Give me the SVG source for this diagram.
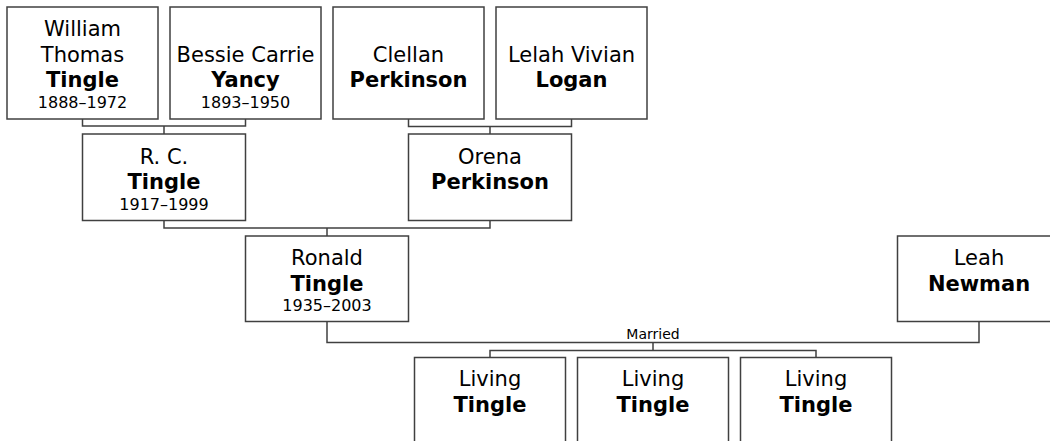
<svg xmlns="http://www.w3.org/2000/svg" width="1050" height="441" viewBox="0 0 1050 441">
<style>
.box{fill:#fff;stroke:#404040;stroke-width:1.5}
.con{fill:none;stroke:#404040;stroke-width:1.5}
text{font-family:"DejaVu Sans",Verdana,sans-serif;fill:#000;text-anchor:middle}
.n{font-size:21px}
.s{font-size:21px;font-weight:bold}
.d{font-size:16px}
.m{font-size:14px}
</style>
<rect width="1050" height="441" fill="#fff"/>
<g id="connectors">
<path class="con" d="M82.5 119V126H245.5V119M164 126V134"/>
<path class="con" d="M408.5 119V126.5H571.5V119M490 126.5V134"/>
<path class="con" d="M164 220.5V228H490V220.5M327 228V236"/>
<path class="con" d="M327 321.5V342.5H979V321.5"/>
<path class="con" d="M653 342.5V350.5M490 357.5V350.5H816V357.5"/>
<text class="m" x="653" y="339">Married</text>
</g>
<g id="william">
<rect class="box" x="7" y="7" width="151" height="112"/>
<text class="n" x="82.5" y="36">William</text>
<text class="n" x="82.5" y="61.5">Thomas</text>
<text class="s" x="82.5" y="87">Tingle</text>
<text class="d" x="82.5" y="108">1888–1972</text>
</g>
<g id="bessie">
<rect class="box" x="170" y="7" width="151" height="112"/>
<text class="n" x="245.5" y="61.5">Bessie Carrie</text>
<text class="s" x="245.5" y="87">Yancy</text>
<text class="d" x="245.5" y="108">1893–1950</text>
</g>
<g id="clellan">
<rect class="box" x="333" y="7" width="151" height="112"/>
<text class="n" x="408.5" y="61.5">Clellan</text>
<text class="s" x="408.5" y="87">Perkinson</text>
</g>
<g id="lelah">
<rect class="box" x="496" y="7" width="151" height="112"/>
<text class="n" x="571.5" y="61.5">Lelah Vivian</text>
<text class="s" x="571.5" y="87">Logan</text>
</g>
<g id="rc">
<rect class="box" x="82.5" y="134" width="163" height="86.5"/>
<text class="n" x="164" y="163.5">R. C.</text>
<text class="s" x="164" y="189">Tingle</text>
<text class="d" x="164" y="210">1917–1999</text>
</g>
<g id="orena">
<rect class="box" x="408.5" y="134" width="163" height="86.5"/>
<text class="n" x="490" y="163.5">Orena</text>
<text class="s" x="490" y="189">Perkinson</text>
</g>
<g id="ronald">
<rect class="box" x="245.5" y="236" width="163" height="85.5"/>
<text class="n" x="327" y="265">Ronald</text>
<text class="s" x="327" y="290.5">Tingle</text>
<text class="d" x="327" y="311">1935–2003</text>
</g>
<g id="leah">
<rect class="box" x="897.5" y="236" width="163" height="85.5"/>
<text class="n" x="979" y="265">Leah</text>
<text class="s" x="979" y="290.5">Newman</text>
</g>
<g id="living1">
<rect class="box" x="414.5" y="357.5" width="151" height="100"/>
<text class="n" x="490" y="386">Living</text>
<text class="s" x="490" y="412">Tingle</text>
</g>
<g id="living2">
<rect class="box" x="577.5" y="357.5" width="151" height="100"/>
<text class="n" x="653" y="386">Living</text>
<text class="s" x="653" y="412">Tingle</text>
</g>
<g id="living3">
<rect class="box" x="740.5" y="357.5" width="151" height="100"/>
<text class="n" x="816" y="386">Living</text>
<text class="s" x="816" y="412">Tingle</text>
</g>
</svg>
